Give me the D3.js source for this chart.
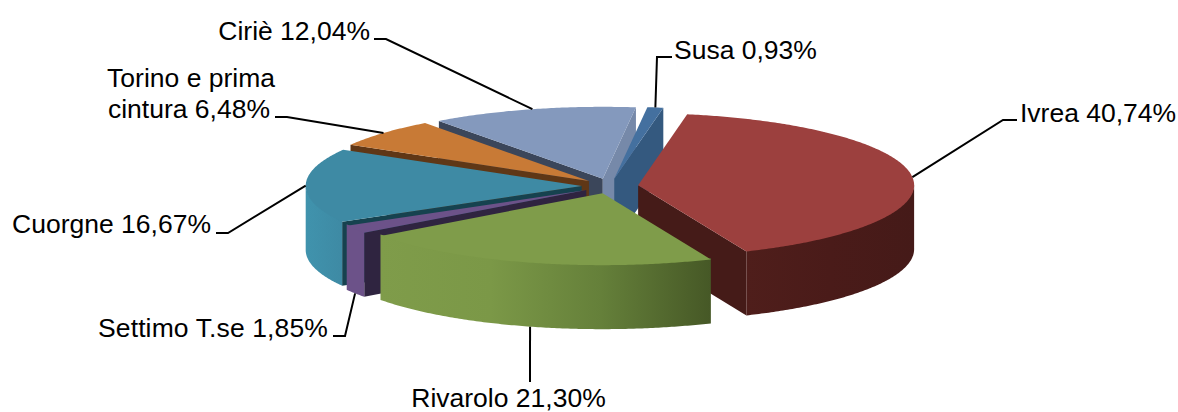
<!DOCTYPE html>
<html><head><meta charset="utf-8">
<script src="https://cdn.jsdelivr.net/npm/d3@7"></script>
<style>html,body{margin:0;padding:0;background:#fff}svg{display:block}text{font-family:"Liberation Sans",Arial,sans-serif;font-size:26.5px;fill:#000}</style>
</head><body><svg id="c" width="1178" height="412"></svg>
<script>
// data
const categories = ["Susa","Ivrea","Rivarolo","Settimo T.se","Cuorgne","Torino e prima cintura","Ciriè"];
const values = [0.93,40.74,21.30,1.85,16.67,6.48,12.04];
const labels = ["Susa 0,93%","Ivrea 40,74%","Rivarolo 21,30%","Settimo T.se 1,85%","Cuorgne 16,67%","Torino e prima cintura 6,48%","Ciriè 12,04%"];
const topColors  = ["#44709f","#9c403e","#7f9c4a","#6c5289","#3e8aa4","#c87a36","#8499bd"];
const faceColors = ["#34597f","#451b18","#4a5c28","#2f2440","#16424f","#5f3716","#3b465a"];
const endFaceColors = ["#34597f","#451b18","#4a5c28","#2f2440","#16424f","#5f3716","#7689a9"];
const wallStops = [["#34597f","#34597f"],["#4f1e1b","#4a1b19","#451a18"],["#7f9c4a","#7b9847","#65803a","#465826"],["#6c5289","#6c5289"],["#4093ad","#3e8aa4"],["#5f3716","#5f3716"],["#3b465a","#3b465a"]];
const paintOrder = ["Ciriè","Susa","Torino e prima cintura","Ivrea","Cuorgne","Settimo T.se","Rivarolo"];

// layout
const cx=610, cy=186, R=276, tilt=0.261, depth=64, explode=28.3, firstAngle=6.9*Math.PI/180;
const leaders = {
 "Susa":{elbow:[657,57],end:[672,57]},
 "Ivrea":{elbow:[1003,120],end:[1017,120]},
 "Rivarolo":{elbow:[530,382],end:[530,382]},
 "Settimo T.se":{elbow:[345,336],end:[333,336]},
 "Cuorgne":{elbow:[228,233],end:[216,233]},
 "Torino e prima cintura":{elbow:[287,117],end:[275,117]},
 "Ciriè":{elbow:[386,39],end:[374,39]}
};
const textPos = {
 "Susa":[[674,59,"start"]],
 "Ivrea":[[1020,122,"start"]],
 "Rivarolo":[[508.5,407,"middle"]],
 "Settimo T.se":[[328,337,"end"]],
 "Cuorgne":[[211,233,"end"]],
 "Torino e prima cintura":[[275,87,"end","Torino e prima"],[270,118,"end","cintura 6,48%"]],
 "Ciriè":[[370,39.5,"end"]]
};

const svg=d3.select("#c"), defs=svg.append("defs");
const pie=d3.pie().sort(null).startAngle(firstAngle).endAngle(firstAngle+2*Math.PI);
const arcs=pie(values).map((a,i)=>{
  const mid=(a.startAngle+a.endAngle)/2;
  return {...a,i,name:categories[i],mid,ax:cx+explode*Math.sin(mid),ay:cy-explode*tilt*Math.cos(mid)};
});
const pt=(d,th,r=R,z=0)=>[d.ax+r*Math.sin(th), d.ay-r*tilt*Math.cos(th)+z];
const line=d3.line();
const sweep=(a,b)=>{const n=Math.max(2,Math.ceil((b-a)/0.01));return d3.range(n+1).map(k=>a+(b-a)*k/n)};
const norm=t=>{const p=2*Math.PI;return ((t%p)+p)%p};

const G=svg.append("g");
const byName=new Map(arcs.map(d=>[d.name,d]));
paintOrder.map(n=>byName.get(n)).forEach(d=>{
  const g=G.append("g");
  const face=(th,color)=>g.append("path").attr("d",line([pt(d,th,0),pt(d,th),pt(d,th,R,depth),pt(d,th,0,depth)])+"Z").attr("fill",color);
  if(Math.sin(d.startAngle)<0) face(d.startAngle,faceColors[d.i]);
  if(Math.sin(d.endAngle)>0) face(d.endAngle,endFaceColors[d.i]);
  let a0=norm(d.startAngle), a1=a0+(d.endAngle-d.startAngle);
  const lo=Math.max(a0,Math.PI/2), hi=Math.min(a1,3*Math.PI/2);
  if(hi>lo){
    const id="w"+d.i;
    const gr=defs.append("linearGradient").attr("id",id);
    const st=wallStops[d.i];
    st.forEach((c,k)=>gr.append("stop").attr("offset",k/(st.length-1)).attr("stop-color",c));
    const ths=sweep(lo,hi);
    // the wall's upper edge is raised a little under the top face so no pale seam shows between them
    const poly=ths.map(t=>pt(d,t,R,-1.5)).concat(ths.slice().reverse().map(t=>pt(d,t,R,depth)));
    g.append("path").attr("d",line(poly)+"Z").attr("fill",`url(#${id})`);
  }
  const top=[pt(d,0,0)].concat(sweep(d.startAngle,d.endAngle).map(t=>pt(d,t)));
  g.append("path").attr("d",line(top)+"Z").attr("fill",topColors[d.i]);
});

arcs.forEach(d=>{
  const front=Math.cos(d.mid)<-0.5;
  const a=pt(d,d.mid,R,front?depth:0);
  const l=leaders[d.name];
  svg.append("path").attr("d",line([a,l.elbow,l.end])).attr("fill","none").attr("stroke","#000").attr("stroke-width",2);
});
arcs.forEach(d=>{
  textPos[d.name].forEach(p=>{
    const t=svg.append("text").attr("x",p[0]).attr("y",p[1]).attr("text-anchor",p[2]).text(p[3]||labels[d.i]);
    if(d.name==="Settimo T.se") t.style("letter-spacing","0.12px");
  });
});
</script></body></html>
